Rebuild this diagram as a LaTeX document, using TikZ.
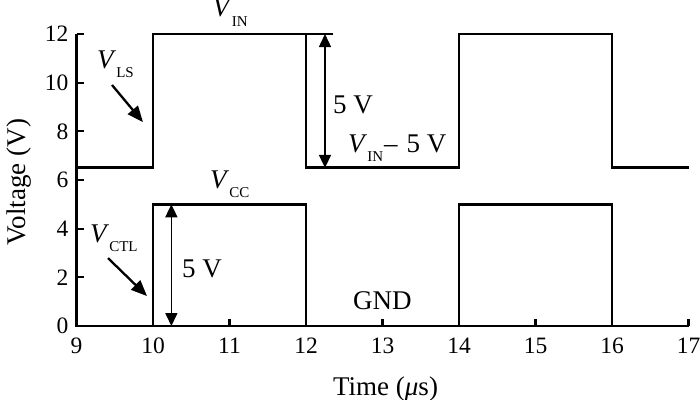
\documentclass[tikz,border=0pt]{standalone}
\usepackage{fontspec}
\setmainfont{Liberation Serif}
\usetikzlibrary{arrows.meta}
\newcommand\Vsb[1]{\textit{V}\raisebox{-9.5pt}{\fontsize{15}{15}\selectfont #1}}
\begin{document}
\begin{tikzpicture}[x=76.5pt,y=24.33pt,
  wave/.style={line width=2.8pt, line join=miter},
  axisline/.style={line width=2.8pt, line join=miter},
  ticklines/.style={line width=2.2pt},
  dimarrow/.style={line width=1.6pt, {Triangle[length=13pt,width=12pt]}-{Triangle[length=13pt,width=12pt]}},
  ptr/.style={line width=2.3pt, -{Triangle[length=16pt,width=13pt]}},
  lbl/.style={font=\fontsize{27}{30}\selectfont, inner sep=0pt, anchor=base west},
  ticklbl/.style={font=\fontsize{23.5}{26}\selectfont, inner sep=0pt}]
\useasboundingbox (8,-3.041) rectangle (17.150,13.399);
% axes
\draw[axisline] (9,12) -- (9,0) -- (17,0);
\foreach \v in {0,2,...,12} {
  \draw[ticklines] (9,\v) -- ++(7pt,0);
  \node[ticklbl, anchor=east] (y\v) at ([xshift=-8pt]9,\v) {\v};
}
\foreach \t in {10,...,17} {
  \draw[ticklines] (\t,0) -- ++(0,7pt);
}
\foreach \t in {9,...,17} {
  \node[ticklbl, anchor=base] (x\t) at (\t,-1.11) {\t};
}
% waveforms
\draw[wave] (9,6.5) -- (10,6.5) -- (10,12) -- (12,12) -- (12,6.5) -- (14,6.5) -- (14,12) -- (16,12) -- (16,6.5) -- (17,6.5);
\draw[wave] (9,0) -- (10,0) -- (10,5) -- (12,5) -- (12,0) -- (14,0) -- (14,5) -- (16,5) -- (16,0);
% dimension arrows
\coordinate (dUa) at (12,12);
\coordinate (dUb) at (12.353,12);
\draw[line width=1.6pt] (dUa) -- (dUb);
\coordinate (aUt) at (12.248,12);
\coordinate (aUb) at (12.248,6.5);
\draw[dimarrow] (aUt) -- (aUb);
\coordinate (aLt) at (10.24,5);
\coordinate (aLb) at (10.24,0);
\draw[dimarrow] (aLt) -- (aLb);
% pointers
\coordinate (lsA) at (9.464,9.905);
\coordinate (lsB) at (9.869,8.38);
\draw[ptr] (lsA) -- (lsB);
\coordinate (ctlA) at (9.412,2.79);
\coordinate (ctlB) at (9.922,1.23);
\draw[ptr] (ctlA) -- (ctlB);
% labels
\node[lbl] (vin) at (10.78,12.72) {\Vsb{IN}};
\node[lbl] (vls) at (9.268,10.60) {\Vsb{LS}};
\node[lbl] (fiveU) at (12.353,8.75) {5 V};
\node[lbl] (vin5) at (12.549,7.15) {\Vsb{IN}\kern1pt–\kern9pt5 V};
\node[lbl] (vcc) at (10.745,5.67) {\Vsb{CC}};
\node[lbl] (vctl) at (9.176,3.45) {\Vsb{CTL}};
\node[lbl] (fiveL) at (10.379,2.01) {5 V};
\node[lbl] (gnd) at (12.614,0.66) {GND};
\node[lbl, anchor=base] (time) at (13.04,-2.84) {Time (\textit{μ}s)};
\node[lbl, rotate=90, anchor=base] (volt) at (8.327,5.92) {Voltage (V)};
\end{tikzpicture}
\end{document}
